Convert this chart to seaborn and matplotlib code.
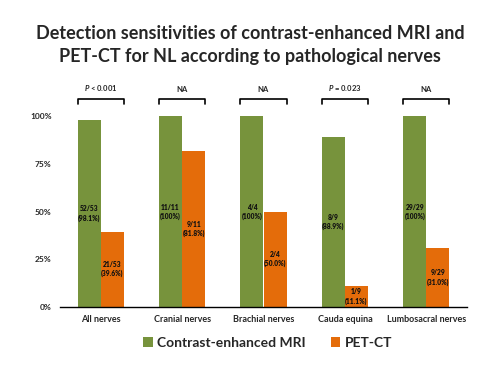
import numpy as np
import pandas as pd
import matplotlib
matplotlib.use("Agg")
import matplotlib.pyplot as plt
import seaborn as sns

nerves = ["All nerves", "Cranial nerves", "Brachial nerves", "Cauda equina", "Lumbosacral nerves"]
mri_values = [98.1, 100, 100, 88.9, 100]
pet_values = [39.6, 81.8, 50.0, 11.1, 31.0]
mri_labels = ["52/53\n(98.1%)", "11/11\n(100%)", "4/4\n(100%)", "8/9\n(88.9%)", "29/29\n(100%)"]
pet_labels = ["21/53\n(39.6%)", "9/11\n(81.8%)", "2/4\n(50.0%)", "1/9\n(11.1%)", "9/29\n(31.0%)"]
p_texts = ["$P$ < 0.001", "NA", "NA", "$P$ = 0.023", "NA"]
modalities = ["Contrast-enhanced MRI", "PET-CT"]

df = pd.DataFrame({
    "nerve": nerves * 2,
    "value": mri_values + pet_values,
    "modality": [modalities[0]] * 5 + [modalities[1]] * 5,
})

sns.set_style("white")
plt.rcParams['font.family'] = ['Lato', 'DejaVu Sans']
plt.rcParams['mathtext.fontset'] = 'custom'
plt.rcParams['mathtext.it'] = 'Lato:italic:bold'

fig = plt.figure(figsize=(5, 3.75), dpi=100)
ax = fig.add_axes([0.12, 0.181, 0.814, 0.611])

palette = {"Contrast-enhanced MRI": "#77933C", "PET-CT": "#E46C0A"}
width = 0.57
sns.barplot(data=df, x="nerve", y="value", hue="modality", palette=palette,
            width=width, saturation=1, linewidth=0, ax=ax, legend=True)

for cont, labs in zip(ax.containers, [mri_labels, pet_labels]):
    for bar, lab in zip(cont, labs):
        ax.text(bar.get_x() + bar.get_width() / 2, bar.get_height() / 2, lab,
                ha="center", va="center", fontsize=4.8, fontweight="heavy",
                color="#111111", linespacing=1.3)

for i, txt in enumerate(p_texts):
    x0, x1 = i - width / 2, i + width / 2
    ax.plot([x0, x0, x1, x1], [106.5, 109, 109, 106.5], color="black", lw=1.2,
            clip_on=False)
    ax.text(i, 112, txt, ha="center", va="bottom", fontsize=5.5, fontweight="bold")

ax.set_ylim(0, 120)
ax.set_xlim(-0.5, 4.5)
ax.set_yticks([0, 25, 50, 75, 100])
ax.set_yticklabels(["0%", "25%", "50%", "75%", "100%"], fontsize=6, fontweight="bold")
ax.set_xticks(range(5))
ax.set_xticklabels(nerves, fontsize=6.5, fontweight="bold")
ax.tick_params(axis="both", length=0, pad=6)
ax.set_xlabel("")
ax.set_ylabel("")
sns.despine(ax=ax, left=True, top=True, right=True)
ax.spines["bottom"].set_color("black")
ax.spines["bottom"].set_linewidth(1)

ax.legend(loc="upper center", bbox_to_anchor=(0.51, -0.075), ncol=2, frameon=False,
          prop={"size": 10, "weight": "bold"}, handlelength=0.7, handleheight=0.7,
          handletextpad=0.3, columnspacing=1.8)

fig.text(0.5, 0.88, "Detection sensitivities of contrast-enhanced MRI and\nPET-CT for NL according to pathological nerves",
         ha="center", va="center", fontsize=13, fontweight="bold", linespacing=1.4)

fig.savefig("out.png", dpi=100)
